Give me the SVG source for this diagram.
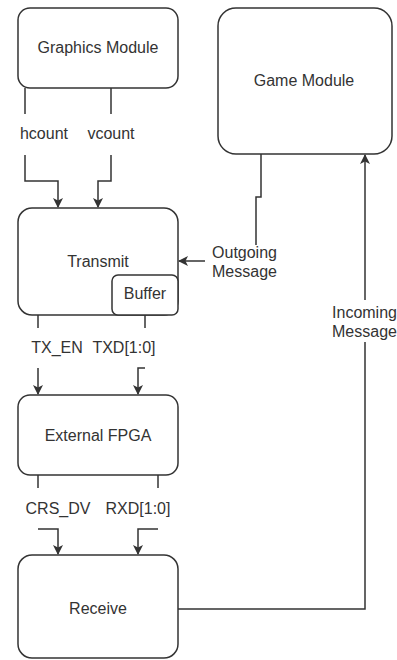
<svg xmlns="http://www.w3.org/2000/svg" width="397" height="660" viewBox="0 0 397 660">
<defs>
<style>
.box{fill:#fff;stroke:#333;stroke-width:1.5}
.ln{fill:none;stroke:#333;stroke-width:1.5}
text{font-family:"Liberation Sans",Arial,sans-serif;font-size:16px;fill:#333;text-anchor:middle}
</style>
<marker id="arr" viewBox="0 0 10 10" refX="9" refY="5" markerWidth="10" markerHeight="10" markerUnits="userSpaceOnUse" orient="auto">
<path d="M0,0 L10,5 L0,10 L2.5,5 Z" fill="#333"/>
</marker>
</defs>
<rect width="397" height="660" fill="#fff"/>
<g id="connectors">
<path class="ln" d="M25,88 V114"/>
<path class="ln" d="M25,155 V181 H58 V207" marker-end="url(#arr)"/>
<path class="ln" d="M111,88 V114"/>
<path class="ln" d="M111,155 V181 H98 V207" marker-end="url(#arr)"/>
<path class="ln" d="M38,315 V328"/>
<path class="ln" d="M38,368 V394" marker-end="url(#arr)"/>
<path class="ln" d="M145,315 V328"/>
<path class="ln" d="M145,368 H138 V394" marker-end="url(#arr)"/>
<path class="ln" d="M38,475 V488"/>
<path class="ln" d="M38,529 H58 V554" marker-end="url(#arr)"/>
<path class="ln" d="M158,475 V488"/>
<path class="ln" d="M158,529 H138 V554" marker-end="url(#arr)"/>
<path class="ln" d="M261,154 V197 H256 V245"/>
<path class="ln" d="M205,261 H179" marker-end="url(#arr)"/>
<path class="ln" d="M178,609 H365 V342"/>
<path class="ln" d="M365,300 V155" marker-end="url(#arr)"/>
</g>
<g id="graphics">
<rect class="box" x="18" y="8" width="160" height="80" rx="12"/>
<text x="98" y="53">Graphics Module</text>
</g>
<g id="game">
<rect class="box" x="218" y="8" width="174" height="146" rx="18"/>
<text x="304" y="86">Game Module</text>
</g>
<g id="transmit">
<rect class="box" x="18" y="208" width="160" height="107" rx="14"/>
<text x="98" y="267">Transmit</text>
</g>
<g id="buffer">
<rect class="box" x="112" y="275" width="66" height="40" rx="6"/>
<text x="145" y="299">Buffer</text>
</g>
<g id="external">
<rect class="box" x="18" y="395" width="160" height="80" rx="12"/>
<text x="98" y="441">External FPGA</text>
</g>
<g id="receive">
<rect class="box" x="18" y="555" width="160" height="103" rx="14"/>
<text x="98" y="614">Receive</text>
</g>
<g id="labels">
<text x="44" y="139">hcount</text>
<text x="111" y="139">vcount</text>
<text x="57" y="353">TX_EN</text>
<text x="124" y="353">TXD[1:0]</text>
<text x="58" y="514">CRS_DV</text>
<text x="138" y="514">RXD[1:0]</text>
<text x="244.5" y="258">Outgoing</text>
<text x="244.5" y="277">Message</text>
<text x="364.5" y="318">Incoming</text>
<text x="364.5" y="337">Message</text>
</g>
</svg>
